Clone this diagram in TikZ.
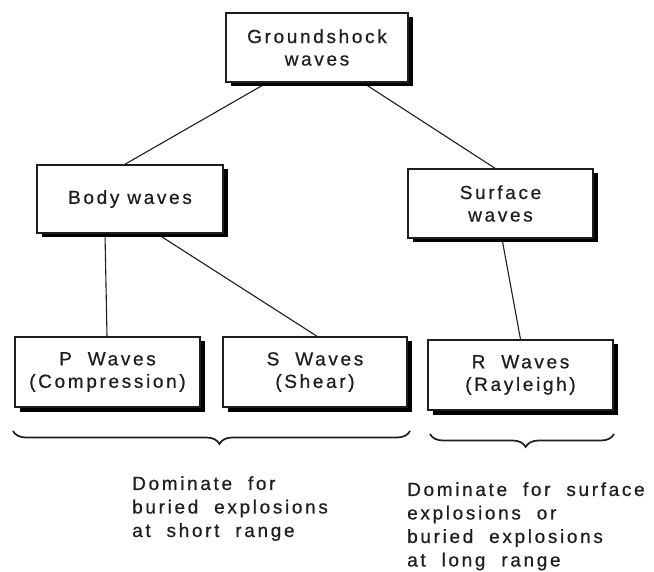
\documentclass[tikz,border=0pt]{standalone}
\usepackage{fontspec}
\setmainfont{Liberation Sans}[LetterSpace=14, FakeBold=0.6]
\usetikzlibrary{shadows,backgrounds,decorations.pathreplacing}
\definecolor{ink}{RGB}{30,30,30}
\tikzset{
  wavebox/.style={draw=ink, line width=1.5pt, fill=white, inner sep=0pt,
    minimum width=185pt, minimum height=69pt, align=center, text=ink,
    font=\fontsize{19}{22.5}\selectfont,
    drop shadow={shadow xshift=4.5pt, shadow yshift=-4.5pt, fill=black, opacity=1}},
  link/.style={draw=ink, line width=1.1pt},
  bracel/.style={draw=ink, line width=1.7pt, decorate,
    decoration={brace, mirror, amplitude=13pt}},
  note/.style={anchor=north west, inner sep=0pt, align=left, text=ink,
    font=\fontsize{19}{23.5}\selectfont}
}
\begin{document}
\begin{tikzpicture}[x=1pt, y=-1pt]
\useasboundingbox (0,0) rectangle (654,572);
\node[wavebox, minimum width=182pt] (top) at (317,47.5) {Groundshock\\waves};
\node[wavebox, minimum width=186pt, minimum height=68pt] (body) at (130,199) {Body waves};
\node[wavebox] (surf) at (500.5,203.5) {Surface\\waves};
\node[wavebox, minimum height=70pt] (p) at (107.5,372) {P\ \ Waves\\(Compression)};
\node[wavebox, minimum width=184pt, minimum height=70pt] (s) at (315,372) {S\ \ Waves\\(Shear)};
\node[wavebox, minimum height=70pt] (r) at (520.5,375) {R\ \ Waves\\(Rayleigh)};
\begin{scope}[on background layer]
\draw[link] ([xshift=-50pt]top.south) -- ([xshift=-5pt]body.north);
\draw[link] ([xshift=46pt]top.south) -- ([xshift=-5.5pt]surf.north);
\draw[link] ([xshift=-25pt]body.south) -- ([xshift=-0.5pt]p.north);
\draw[link] ([xshift=27pt]body.south) -- ([xshift=2pt]s.north);
\draw[link] ([xshift=1.5pt]surf.south) -- (r.north);
\end{scope}
\coordinate (b1a) at (13,431);
\coordinate (b1b) at (410,431);
\coordinate (b2a) at (430,434);
\coordinate (b2b) at (614,434);
\draw[bracel, decoration={aspect=0.52}] (b1a) -- (b1b);
\draw[bracel, decoration={aspect=0.52}] (b2a) -- (b2b);
\node[note] (n1) at (132,476) {Dominate\ \ for\\buried\ \ explosions\\at\ \ short\ \ range};
\node[note] (n2) at (407,482) {Dominate\ \ for\ \ surface\\explosions\ \ or\\buried\ \ explosions\\at\ \ long\ \ range};
\end{tikzpicture}
\end{document}
